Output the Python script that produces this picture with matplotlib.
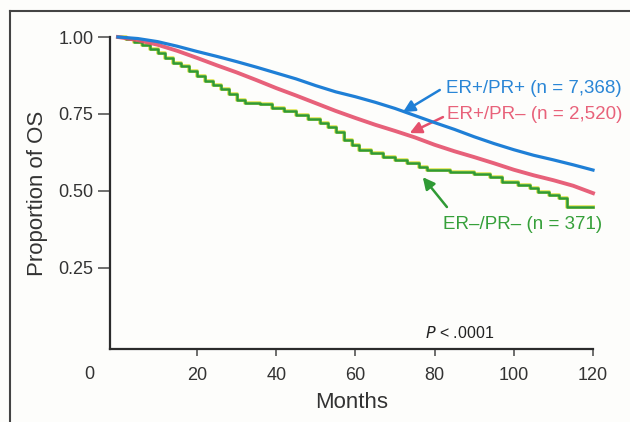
import matplotlib
matplotlib.use("Agg")
import matplotlib.pyplot as plt
import matplotlib.patheffects as pe
from matplotlib.lines import Line2D

plt.rcParams['font.family'] = ['Liberation Sans', 'DejaVu Sans']

# ---- data ----
blue_t = [0, 5, 10, 15, 20, 25, 30, 35, 40, 45, 50, 55, 60, 65, 70, 75, 80, 85, 90, 95, 100, 105, 110, 115, 120]
blue_s = [1.0, 0.995, 0.985, 0.97, 0.953, 0.937, 0.92, 0.902, 0.883, 0.864, 0.842, 0.822, 0.806, 0.788,
          0.768, 0.745, 0.722, 0.7, 0.676, 0.654, 0.634, 0.616, 0.601, 0.585, 0.568]

red_t = [0, 5, 10, 15, 20, 25, 30, 35, 40, 45, 50, 55, 60, 65, 70, 75, 80, 85, 90, 95, 100, 105, 110, 115, 120]
red_s = [1.0, 0.99, 0.975, 0.955, 0.932, 0.908, 0.885, 0.86, 0.834, 0.81, 0.785, 0.76, 0.737, 0.715,
         0.695, 0.674, 0.65, 0.629, 0.61, 0.59, 0.569, 0.551, 0.535, 0.517, 0.493]

green_t = [0, 2, 4, 6, 8, 10, 12, 14, 16, 18, 20, 22, 24, 26, 28, 30, 32, 36, 39, 42, 45, 48, 51, 53,
           55, 57, 59, 61, 64, 67, 70, 73, 76, 78, 84, 90, 94, 97, 101, 104, 106, 109, 111.5, 113.4, 120]
green_s = [1.0, 0.995, 0.985, 0.975, 0.96, 0.947, 0.932, 0.915, 0.905, 0.888, 0.872, 0.858, 0.845, 0.83,
           0.815, 0.797, 0.787, 0.782, 0.77, 0.76, 0.748, 0.735, 0.72, 0.707, 0.69, 0.665, 0.648, 0.632,
           0.622, 0.612, 0.602, 0.59, 0.578, 0.568, 0.562, 0.555, 0.545, 0.53, 0.52, 0.51, 0.498, 0.488,
           0.478, 0.448, 0.448]

labels = ["ER+/PR+ (n = 7,368)", "ER+/PR\u2013 (n = 2,520)", "ER\u2013/PR\u2013 (n = 371)"]
xticks = [20, 40, 60, 80, 100, 120]
yticks = [0.25, 0.50, 0.75, 1.00]

BLUE = "#1f7fd6"
RED = "#e5506c"
GREEN = "#2f9a35"
TBLUE = "#2a86d6"
TRED = "#e8627a"
TGREEN = "#36a03a"
DARK = "#2b2b2b"

fig = plt.figure(figsize=(6.30, 4.22), dpi=100)
fig.patch.set_facecolor("#fdfdfb")
ax = fig.add_axes([110/630, (422-349)/422, (593-110)/630, (349-37)/422])
ax.set_facecolor("#fdfdfb")

ax.set_xlim(-2, 120)
ax.set_ylim(-0.013, 1.0)

ax.plot(blue_t, blue_s, color=BLUE, lw=2.3, clip_on=False, zorder=4)
ax.plot(red_t, red_s, color=RED, lw=2.8, alpha=0.9, clip_on=False, zorder=3)
ax.plot(green_t, green_s, color=GREEN, lw=1.8, drawstyle='steps-post', clip_on=False, zorder=2,
        path_effects=[pe.Stroke(linewidth=2.8, foreground="#e4e86a"), pe.Normal()])

for s in ["top", "right"]:
    ax.spines[s].set_visible(False)
for s in ["left", "bottom"]:
    ax.spines[s].set_color(DARK)
    ax.spines[s].set_linewidth(1.6)

ax.set_xticks(xticks)
ax.set_xticklabels([str(v) for v in xticks])
ax.set_yticks(yticks)
ax.set_yticklabels([f"{v:.2f}" for v in yticks])
ax.tick_params(axis='x', direction='out', length=5, width=1.2, color="#555555",
               labelsize=13, labelcolor="#333333", pad=8)
ax.tick_params(axis='y', direction='out', length=9, width=1.2, color="#555555",
               labelsize=13, labelcolor="#333333", pad=3)

ax.text(-7.3, -0.013 - 26/308, "0", ha='center', va='center', fontsize=13, color="#333333",
        transform=ax.transData, clip_on=False)

ax.set_xlabel("Months", fontsize=16, color="#333333", labelpad=6)
ax.set_ylabel("Proportion of OS", fontsize=16, color="#333333", labelpad=7)

# annotations
ax.text(82.8, 0.834, labels[0], color=TBLUE, fontsize=13.5, ha='left', va='center')
ax.text(83.0, 0.747, labels[1], color=TRED, fontsize=13.5, ha='left', va='center')
ax.text(82.0, 0.390, labels[2], color=TGREEN, fontsize=13.5, ha='left', va='center')

arrow_kw = dict(arrowstyle='-|>,head_length=0.7,head_width=0.35', lw=1.8, shrinkA=0, shrinkB=0)
ax.annotate("", xy=(72.0, 0.756), xytext=(81.3, 0.828),
            arrowprops=dict(color=BLUE, **arrow_kw))
ax.annotate("", xy=(73.7, 0.688), xytext=(82.1, 0.740),
            arrowprops=dict(color=RED, **arrow_kw))
ax.annotate("", xy=(77.0, 0.545), xytext=(83.1, 0.448),
            arrowprops=dict(color=GREEN, **arrow_kw))

ax.text(86.3, 0.040, "$P$ < .0001", fontsize=11.5, color="#222222", ha='center', va='center')

# frame lines of the original figure box (top and left edges)
fig.add_artist(Line2D([10/630, 1.0], [1 - 11/422, 1 - 11/422], color="#444444", lw=1.5,
                      transform=fig.transFigure))
fig.add_artist(Line2D([10/630, 10/630], [0.0, 1 - 11/422], color="#444444", lw=1.5,
                      transform=fig.transFigure))

fig.savefig("out.png", dpi=100, facecolor=fig.get_facecolor())
